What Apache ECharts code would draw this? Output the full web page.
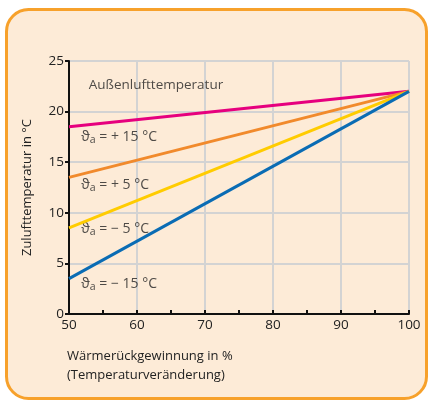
<!DOCTYPE html>
<html><head><meta charset="utf-8">
<script src="https://cdn.jsdelivr.net/npm/echarts@6/dist/echarts.min.js"></script>
<style>html,body{margin:0;padding:0;background:#fff}#c{width:430px;height:401px}</style>
</head><body><div id="c"></div>
<script>
const xValues = [50, 100];
const seriesNames = ['+15', '+5', '-5', '-15'];
const pinkValues = [18.5, 22];
const orangeValues = [13.5, 22];
const yellowValues = [8.5, 22];
const blueValues = [3.5, 22];
const xTicks = [50, 60, 70, 80, 90, 100];
const yTicks = [0, 5, 10, 15, 20, 25];
const labelTexts = ['+ 15 °C', '+ 5 °C', '\u2212 5 °C', '\u2212 15 °C'];
const labelCoords = [[51.8, 17.5], [51.8, 12.75], [51.8, 8.4], [51.8, 3.0]];
const titleText = 'Außenlufttemperatur';
const titleCoord = [52.9, 22.6];

const font = 'Open Sans';
const colors = ['#E6007E', '#F18A2C', '#FFCC00', '#0A6CB4'];
const valuesList = [pinkValues, orangeValues, yellowValues, blueValues];

const rich = {
  th: {fontFamily: font, fontSize: 14, color: '#222'},
  sub: {fontFamily: font, fontSize: 10.5, color: '#222', padding: [7, 0, 0, 0]},
  t: {fontFamily: font, fontSize: 14, color: '#222'}
};

const series = valuesList.map((vals, i) => ({
  name: seriesNames[i],
  type: 'line',
  data: vals.map((v, k) => [xValues[k], v]),
  symbol: 'none',
  lineStyle: {color: colors[i], width: 3},
  z: 3
}));
series.push({
  type: 'scatter',
  symbolSize: 0,
  silent: true,
  data: labelCoords.map((c, i) => ({
    value: c,
    label: {show: true, position: 'right', distance: 0,
      formatter: '{th|\u03D1}{sub|a}{t| = ' + labelTexts[i] + '}', rich: rich}
  })).concat([{
    value: titleCoord,
    label: {show: true, position: 'right', distance: 0, formatter: titleText,
      fontFamily: font, fontSize: 13.5, color: '#222'}
  }])
});

const chart = echarts.init(document.getElementById('c'));
chart.setOption({
  animation: false,
  backgroundColor: '#fff',
  graphic: [{
    type: 'rect', z: -10,
    shape: {x: 6.5, y: 9.5, width: 420, height: 389, r: 22},
    style: {fill: '#FDEBD7', stroke: '#F7A12B', lineWidth: 3}
  }, {
    type: 'text', left: 67, top: 347,
    style: {text: 'Wärmerückgewinnung in %\n(Temperaturveränderung)', font: '13px "Open Sans"', fill: '#222', lineHeight: 19}
  }],
  grid: {left: 69, right: 21, top: 61, bottom: 87},
  xAxis: {
    type: 'value', min: 50, max: 100, interval: 10,
    axisLine: {show: true, onZero: false, lineStyle: {color: '#111', width: 2}},
    axisTick: {show: true, inside: true, length: 4, lineStyle: {color: '#111', width: 2}},
    minorTick: {show: true, splitNumber: 2, length: 4, lineStyle: {color: '#111', width: 2}},
    axisLabel: {fontFamily: font, fontSize: 13.5, color: '#222', margin: 4},
    splitLine: {show: true, lineStyle: {color: '#D3D3D3', width: 2}}
  },
  yAxis: {
    type: 'value', min: 0, max: 25, interval: 5,
    name: 'Zulufttemperatur in °C', nameLocation: 'middle', nameGap: 35, nameRotate: 90,
    nameTextStyle: {fontFamily: font, fontSize: 13, color: '#222'},
    axisLine: {show: true, onZero: false, lineStyle: {color: '#111', width: 2}},
    axisTick: {show: true, length: 4, lineStyle: {color: '#111', width: 2}},
    axisLabel: {fontFamily: font, fontSize: 13.5, color: '#222', margin: 5},
    splitLine: {show: true, lineStyle: {color: '#D3D3D3', width: 2}}
  },
  series: series
});
</script></body></html>
